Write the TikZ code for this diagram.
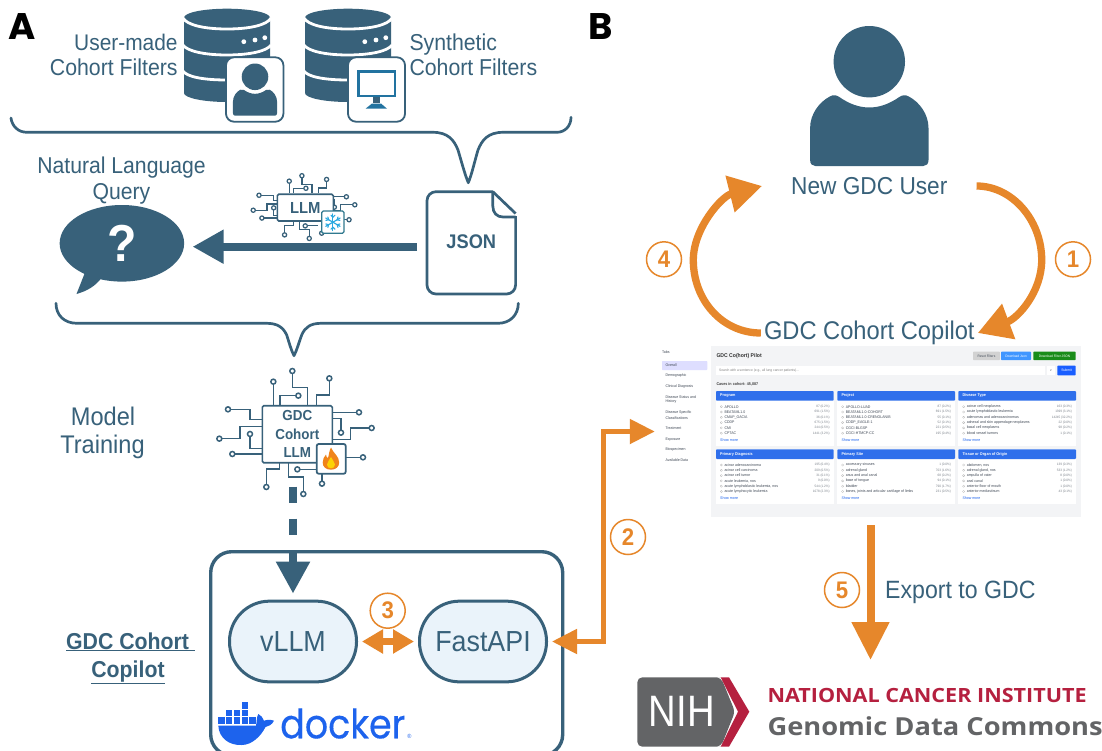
\documentclass[tikz,border=0pt]{standalone}
\usepackage{fontspec}
\setmainfont[FakeStretch=0.925]{Liberation Sans}
\newfontfamily\nihfont[FakeStretch=0.87]{Liberation Sans}
\newfontfamily\heavyfont{Poppins}
\newfontfamily\dockerfont[FakeStretch=0.9,FakeBold=0.35]{Poppins}
\newfontfamily\ncifont[FakeStretch=1.1]{Open Sans}
\usetikzlibrary{arrows.meta,shapes.geometric,calc}
\definecolor{navy}{HTML}{38617A}
\definecolor{orng}{HTML}{E6872B}
\definecolor{pale}{HTML}{EAF3FA}
\definecolor{dkblue}{HTML}{1D63ED}
\definecolor{nihred}{HTML}{B5203F}
\definecolor{nihgray}{HTML}{636466}
\definecolor{cardblue}{HTML}{2F6FEB}
\definecolor{panel}{HTML}{F3F4F6}
\definecolor{dtext}{HTML}{414A57}
\definecolor{monitor}{HTML}{2273A0}
\definecolor{flake}{HTML}{29A9E0}
\newcommand\fs[1]{\fontsize{#1}{#1}\selectfont}
\tikzset{
  x=1pt,y=-1pt,
  lab/.style={text=navy,inner sep=0pt},
  brace/.style={draw=navy,line width=2.7pt,line cap=round,line join=round},
  navyarrow/.style={draw=navy,line width=8pt},
  pill/.style={draw=navy,fill=pale,line width=3pt,rounded corners=40pt,minimum width=127pt,minimum height=80.7pt,inner sep=0pt,text=navy,font=\fs{29}},
  numc/.style={circle,draw=orng,line width=1.5pt,fill=white,minimum size=35pt,inner sep=0pt,text=orng,font=\fs{24}\bfseries},
  chipbox/.style={draw=navy,line width=1.6pt,fill=white,rounded corners=1.5pt,inner sep=0pt,text=navy,align=center},
  dtxt/.style={inner sep=0pt,text=dtext,font=\fs{3.8}},
  wire/.style={draw=navy},
  pinc/.style={draw=navy,fill=white},
}
\newcommand\wire[2]{\draw[wire] #1 -- #2; \filldraw[pinc] #2 ellipse [x radius=\prx, y radius=\pry];}
\newcommand\chipwires{%
  \wire{(220,165)}{(220,95)}
  \wire{(240,165)--(240,137)}{(295,137)}
  \wire{(322,165)--(322,113)--(277,113)}{(277,63)}
  \wire{(350,165)--(350,135)--(388,135)}{(388,85)}
  \wire{(187,208)--(150,208)--(150,178)}{(84,178)}
  \wire{(187,230)--(120,230)--(120,266)}{(58,266)}
  \wire{(187,295)--(150,295)}{(150,252)}
  \wire{(187,312)}{(97,312)}
  \wire{(397,187)}{(477,187)}
  \wire{(397,205)--(423,205)}{(423,248)}
  \wire{(397,268)--(452,268)--(452,234)}{(515,234)}
  \wire{(437,322)}{(489,322)}
  \wire{(238,338)--(238,357)--(199,357)}{(199,411)}
  \wire{(265,338)--(265,381)--(310,381)}{(310,432)}
  \wire{(350,358)}{(292,358)}
  \wire{(366,371)}{(366,401)}
}
\newcommand\personicon{%
  \fill (0,35.7) circle (35.7);
  \fill (-59.2,134) -- (-59.2,102) .. controls (-59.2,88) and (-50,76) .. (-39.5,70.5)
     .. controls (-36,68.5) and (-33,69) .. (-30,71) .. controls (-20,78) and (-10,81.5) .. (0,81.5)
     .. controls (10,81.5) and (20,78) .. (30,71) .. controls (33,69) and (36,68.5) .. (39.5,70.5)
     .. controls (50,76) and (59.2,88) .. (59.2,102) -- (59.2,134) .. controls (59.2,138) and (57,140) .. (54,140)
     -- (-54,140) .. controls (-57,140) and (-59.2,138) .. (-59.2,134) -- cycle;
}
\newcommand\dbicon{%
  \fill[navy] (0,17.7) -- (0,93) .. controls (0,98) and (20,102) .. (43,102) .. controls (66,102) and (86,98) .. (86,93)
    -- (86,17.7) .. controls (86,12.5) and (66,8.7) .. (43,8.7) .. controls (20,8.7) and (0,12.5) .. (0,17.7) -- cycle;
  \draw[white,line width=2.8pt] (-1,18) .. controls (3,25) and (20,29) .. (43,29) .. controls (66,29) and (83,25) .. (87,18);
  \draw[white,line width=2.8pt] (-1,45) .. controls (3,51) and (20,55) .. (43,55) .. controls (66,55) and (83,51) .. (87,45);
  \draw[white,line width=2.8pt] (-1,71) .. controls (3,77) and (20,80) .. (43,80) .. controls (66,80) and (83,77) .. (87,71);
  \fill[white] (59.8,41.7) circle (2.4) (71,40) circle (2.4) (80.8,37.7) circle (2.4);
}
\newcommand\dcard[5]{%
  \fill[white] (#2,#3) rectangle ++(117.7,54.5);
  \fill[cardblue,rounded corners=.8pt] (#2,#3) rectangle ++(117.7,9.7);
  \node[dtxt,text=white,font=\fs{4}\bfseries,anchor=west] (#1h) at ({#2+4},{#3+4.8}) {#4};
  \foreach \lab/\num [count=\k] in {#5} {
    \pgfmathsetmacro\yy{#3+15.7+5.3*(\k-1)}
    \draw[gray!60,line width=.25pt] ({#2+5.3},\yy) circle (1.1);
    \node[dtxt,anchor=west] (#1l\k) at ({#2+8.3},\yy) {\lab};
    \node[dtxt,anchor=east,text=dtext!70,font=\fs{3.3}] (#1n\k) at ({#2+113.8},\yy) {\num};
  }
  \node[dtxt,anchor=west,text=dkblue] (#1m) at ({#2+4},{#3+48.7}) {Show more};
}
\begin{document}
\begin{tikzpicture}
\clip (0,0) rectangle (1102,750);
\fill[white] (0,0) rectangle (1102,750);

% panel letters
\node[inner sep=0pt,anchor=base west,font=\heavyfont\fs{37}\bfseries] (pa) at (8,39.3) {A};
\node[inner sep=0pt,anchor=base west,font=\heavyfont\fs{37}\bfseries] (pb) at (588,39.3) {B};

% databases
\begin{scope}[shift={(184,0)}] \dbicon \end{scope}
\begin{scope}[shift={(305,0)}] \dbicon \end{scope}
\draw[draw=navy,fill=white,line width=1.8pt,rounded corners=8pt] (226,57.3) rectangle (283.4,121.7);
\begin{scope}[shift={(255,63.5)},scale=.372,fill=navy] \personicon \end{scope}
\draw[draw=navy,fill=white,line width=1.8pt,rounded corners=8pt] (348,57.3) rectangle (405,121.7);
\draw[draw=monitor,line width=2.6pt] (358.3,71.3) rectangle (395.1,96);
\fill[navy] (373,97.3) rectangle (380,103);
\fill[monitor] (372,103.5) -- (381,103.5) -- (387,108.7) -- (365.5,108.7) -- cycle;

\node[lab,anchor=base east,font=\fs{22.6}] (lu1) at (177.8,50) {User-made};
\node[lab,anchor=base east,font=\fs{23}] (lu2) at (177.8,75) {Cohort Filters};
\node[lab,anchor=base west,font=\fs{23}] (ls1) at (409.3,50) {Synthetic};
\node[lab,anchor=base west,font=\fs{23}] (ls2) at (409.3,75) {Cohort Filters};

% top brace
\draw[brace] (11,118) .. controls (12,126) and (18,132.3) .. (27,132.3) -- (433,132.3)
  .. controls (448,132.3) and (454,140) .. (458,150) .. controls (461,160) and (465,175) .. (468.3,182.7)
  .. controls (471.6,175) and (475,160) .. (478,150) .. controls (482,140) and (488,132.3) .. (503,132.3)
  -- (556.7,132.3) .. controls (565,132.3) and (571,126) .. (571,117.3);

\node[lab,anchor=base,font=\fs{22.9}] (nl1) at (121.5,173.3) {Natural Language};
\node[lab,anchor=base,font=\fs{22.9}] (nl2) at (121.5,199.5) {Query};

% speech bubble
\fill[navy] (86,270) -- (76.5,294) .. controls (87,291) and (96,286) .. (102,277) -- cycle;
\node[ellipse,fill=navy,minimum width=124.5pt,minimum height=76.6pt,inner sep=0pt,text=white,font=\fs{52}\bfseries] (query) at (121.9,243.3) {?};

% json document
\draw[navy,line width=2.7pt,line join=round,rounded corners=9pt,fill=white] (492.8,191.7) -- (427,191.7) -- (427,294) -- (515.6,294) -- (515.6,216);
\draw[navy,line width=2.7pt,line join=round] (492.8,191.7) -- (515.6,213.5);
\draw[navy,line width=2.7pt,line join=round] (492.8,193) -- (492.8,206) .. controls (492.8,213) and (497,217) .. (503,217) -- (515.6,217);
\node[inner sep=0pt,minimum width=88.6pt,minimum height=102.3pt,text=navy,font=\fs{19.7}\bfseries] (json) at (471.3,242) {JSON};

\draw[navyarrow,-{Triangle[length=31pt,width=32pt]}] ([xshift=-9.6pt,yshift=-4.7pt]json.west) -- ([xshift=8.2pt,yshift=-3.4pt]query.east);

% frozen LLM chip
\begin{scope}[shift={(240.33,165)},xscale=.2223,yscale=.17,line width=1.25pt]
  \def\prx{9.4}\def\pry{12.3}
  \chipwires
\end{scope}
\node[chipbox,minimum width=56pt,minimum height=26.7pt,font=\fs{16}\bfseries] (llm) at (305.3,207.6) {LLM};
\draw[draw=navy!85!cyan,fill=white,line width=1.3pt,rounded corners=1.5pt] (321.7,211) rectangle (344,233.3);
\begin{scope}[shift={(332.9,222.2)},line width=1.15pt,line cap=round]
  \foreach \a in {30,90,...,330} {
    \draw[flake] (0,0) -- (\a:8.3);
    \draw[flake] (\a:5) -- ++(\a+45:2.8);
    \draw[flake] (\a:5) -- ++(\a-45:2.8);
  }
\end{scope}

% bottom brace
\draw[brace] (56,303.3) .. controls (56,315) and (64,323.3) .. (77,323.3) -- (266.7,323.3)
  .. controls (277,323.3) and (283,327) .. (286.7,335) .. controls (289,342) and (291,350) .. (294,355.7)
  .. controls (297,350) and (299,342) .. (301.7,335) .. controls (305,327) and (311,323.3) .. (321,323.3)
  -- (498,323.3) .. controls (510,323.3) and (518.3,315) .. (518.3,303.3);

\node[lab,anchor=base,font=\fs{25.5}] (mt1) at (103,425) {Model};
\node[lab,anchor=base,font=\fs{25.5}] (mt2) at (102.5,453) {Training};

% training chip
\begin{scope}[shift={(200,350)},xscale=.3333,yscale=.3333,line width=1.5pt]
  \def\prx{7.5}\def\pry{7.5}
  \chipwires
\end{scope}
\node[chipbox,minimum width=70pt,minimum height=57pt,font=\fontsize{14.5}{18.3}\selectfont\bfseries] (gdcllm) at (297.3,434.2) {GDC\\Cohort\\LLM};
\draw[draw=navy,fill=white,line width=1.8pt,rounded corners=2pt] (316.7,444) rectangle (345.7,473.7);
\fill[orng!60!orange] (331,447.5) .. controls (333,453) and (339.2,456) .. (339.2,462.5) .. controls (339.2,467) and (335.5,469.7) .. (331,469.7)
  .. controls (326,469.7) and (322.7,467) .. (322.7,462.5) .. controls (322.7,459) and (324,457) .. (326,454.5)
  .. controls (326,456.5) and (327,458) .. (328,458) .. controls (329,455) and (329,451) .. (331,447.5) -- cycle;
\fill[yellow!70!orange] (331,457) .. controls (332,460) and (335,462) .. (335,464.5) .. controls (335,467) and (333,468.3) .. (331,468.3)
  .. controls (328.5,468.3) and (327,467) .. (327,464.5) .. controls (327,461.5) and (330,460) .. (331,457) -- cycle;

% docker box
\draw[navy,line width=3.4pt,rounded corners=21pt] (210.7,551.7) rectangle (562.7,755.5);
\node[pill] (vllm) at (293,641.5) {vLLM};
\node[pill] (fastapi) at (483,641.5) {FastAPI};
\draw[navyarrow,dash pattern=on 16pt off 16pt,-{Triangle[length=32pt,width=32pt]},shorten <=23pt,shorten >=6pt] (vllm.north |- gdcllm.south) -- (vllm.north);
\draw[orng,line width=6.5pt,{Triangle[length=21pt,width=23pt]}-{Triangle[length=21pt,width=23pt]},shorten <=4pt,shorten >=4pt] (vllm.east) -- (fastapi.west);
\node[numc] (n3) at (387.7,610.7) {3};

% docker logo
\foreach \xx/\yy in {241.7/702.3, 226/710, 233.8/710, 241.7/710, 218.3/717.3, 226/717.3, 233.8/717.3, 241.7/717.3, 249.3/717.3}
  \fill[dkblue] (\xx,\yy) rectangle ++(6.2,6.2);
\fill[dkblue] (218.3,725.7) -- (256,725.7) .. controls (257,721) and (256.5,717) .. (258.3,714)
  .. controls (261,715) and (263,718) .. (264,720.7) .. controls (267,719.5) and (271,719.5) .. (274,720.7)
  .. controls (272,724.5) and (269,726.5) .. (265.5,727) .. controls (261,736) and (252,745) .. (241.7,745)
  .. controls (229,745.5) and (219,738) .. (218.3,725.7) -- cycle;
\node[inner sep=0pt,anchor=base west,text=dkblue,font=\dockerfont\fs{40.5}] (dockertxt) at (280,738.3) {docker};
\node[inner sep=0pt,anchor=center,text=dkblue,font=\fs{6}] (dockerreg) at (409.3,736.7) {®};

\node[lab,anchor=base,font=\fs{23}\bfseries] (gcc1) at (130.5,649) {\underline{GDC Cohort\ }};
\node[lab,anchor=base,font=\fs{23}\bfseries] (gcc2) at (128,677) {\underline{Copilot}};

% user
\begin{scope}[shift={(869.3,26)},fill=navy] \personicon \end{scope}
\node[lab,font=\fs{24.5},inner xsep=29pt] (newuser) at (869.3,186) {New GDC User};
\node[lab,font=\fs{25.6},inner xsep=3pt] (copilot) at (869.3,333) {GDC Cohort Copilot};

% dashboard screenshot
\node[inner sep=0pt,minimum width=421pt,minimum height=171pt] (dash) at (870.5,431.5) {};
\fill[panel] (711,346) rectangle (1081,517);
\node[dtxt,anchor=west] (tabs) at (662,352.3) {Tabs};
\fill[blue!13,rounded corners=.6pt] (662,361) rectangle (707.3,370);
\foreach \tx/\ty [count=\k] in {Overall/365.3,Demographic/375.7,Clinical Diagnosis/386.7,Disease Status and/397,History/402,Disease Specific/412.7,Classifications/418,Treatment/428.7,Exposure/439.3,Biospecimen/450,Available Data/460.3}
  \node[dtxt,anchor=west] (side\k) at (665.3,\ty) {\tx};
\node[dtxt,anchor=west,text=black!80,font=\fs{5.5}\bfseries] (dtitle) at (716.3,355.7) {GDC Co(hort) Pilot};
\fill[gray!35,rounded corners=.6pt] (973,351.7) rectangle (1000,360);
\fill[blue!55!cyan!75,rounded corners=.6pt] (1001,351.7) rectangle (1031,360);
\fill[green!50!black!90!white,rounded corners=.6pt] (1033.3,351.7) rectangle (1075.7,360);
\node[dtxt,font=\fs{3.4}] (b1) at (986.5,355.9) {Reset Filters};
\node[dtxt,font=\fs{3.4},text=white] (b2) at (1016,355.9) {Download Json};
\node[dtxt,font=\fs{3.4},text=white] (b3) at (1054.5,355.9) {Download Filter JSON};
\fill[white] (716.3,365.7) rectangle (1045,375.3);
\node[dtxt,anchor=west,text=gray,font=\fs{3.5}] (search) at (719,370.5) {Search with a sentence (e.g., all lung cancer patients)...};
\fill[white] (1046.7,365.7) rectangle (1055,375.3);
\node[dtxt,font=\fs{3.3}] (sel) at (1050.8,370.5) {v};
\fill[blue!70!cyan!90,rounded corners=.6pt] (1057.3,365.7) rectangle (1075.7,375.3);
\node[dtxt,text=white,font=\fs{3.6}] (submit) at (1066.5,370.5) {Submit};
\node[dtxt,anchor=west,text=black!75,font=\fs{4}\bfseries] (ccount) at (716.3,384.3) {Cases in cohort: 45,087};
\dcard{ca}{716}{391}{Program}{APOLLO/87 (0.2\%),BEATAML1.0/691 (1.5\%),CMAP\_GACIA/36 (0.1\%),CDDP/675 (1.5\%),CMI/244 (0.5\%),CPTAC/1441 (3.2\%)}
\dcard{cb}{837.3}{391}{Project}{APOLLO-LUAD/87 (0.2\%),BEATAML1.0-COHORT/691 (1.5\%),BEATAML1.0-CRENOLANIB/55 (0.1\%),CDDP\_EAGLE-1/52 (0.1\%),CGCI-BLGSP/221 (0.5\%),CGCI-HTMCP-CC/195 (0.4\%)}
\dcard{cc}{958.3}{391}{Disease Type}{acinar cell neoplasms/163 (0.3\%),acute lymphoblastic leukemia/1399 (3.1\%),adenomas and adenocarcinomas/14245 (32.2\%),adnexal and skin appendage neoplasms/22 (0.0\%),basal cell neoplasms/98 (0.2\%),blood vessel tumors/1 (0.1\%)}
\dcard{cd}{716}{449.3}{Primary Diagnosis}{acinar adenocarcinoma/195 (0.4\%),acinar cell carcinoma/209 (0.5\%),acinar cell tumor/31 (0.1\%),{acute leukemia, nos}/9 (0.0\%),{acute lymphoblastic leukemia, nos}/544 (1.2\%),acute lymphocytic leukemia/1078 (2.3\%)}
\dcard{ce}{837.3}{449.3}{Primary Site}{accessory sinuses/1 (0.0\%),adrenal gland/703 (1.6\%),anus and anal canal/68 (0.2\%),base of tongue/94 (0.1\%),bladder/790 (1.7\%),{bones, joints and articular cartilage of limbs}/231 (0.5\%)}
\dcard{cf}{958.3}{449.3}{Tissue or Organ of Origin}{{abdomen, nos}/139 (0.3\%),{adrenal gland, nos}/533 (1.2\%),ampulla of vater/8 (0.0\%),anal canal/1 (0.0\%),anterior floor of mouth/1 (0.0\%),anterior mediastinum/43 (0.1\%)}

% cycle arrows
\draw[orng,line width=7.3pt,-{Triangle[length=33pt,width=36pt]}] (newuser.east) .. controls (1012,186) and (1041.7,220) .. (1041.7,260) .. controls (1041.7,292) and (1018,318) .. (copilot.east);
\draw[orng,line width=7.3pt,-{Triangle[length=33pt,width=36pt]}] (copilot.west) .. controls (722,333) and (693.3,300) .. (693.3,260) .. controls (693.3,228) and (722,196) .. (newuser.west);
\node[numc] (n1) at (1073,259.3) {1};
\node[numc] (n4) at (664,259.3) {4};

% fastapi - dashboard
\coordinate (elbow) at (603,500);
\draw[orng,line width=5pt,line join=miter,{Triangle[length=25pt,width=24pt]}-{Triangle[length=25pt,width=24pt]},shorten <=4pt,shorten >=5pt] (fastapi.east) -- (elbow |- fastapi.east) -- (elbow |- dash.west) -- (dash.west);
\node[numc] (n2) at (628,537) {2};

% export
\coordinate (exporttip) at (870.5,660);
\draw[orng,line width=8pt,-{Triangle[length=38pt,width=36pt]},shorten <=8pt] (dash.south) -- (exporttip);
\node[numc] (n5) at (842,590) {5};
\node[lab,anchor=base west,font=\fs{25}] (export) at (885,598) {Export to GDC};

% NIH logo
\fill[nihgray,rounded corners=5pt] (637.3,677.3) -- (716,677.3) -- (721,677.3) -- (735,711.7) -- (721,746.7) -- (716,746.7) -- (637.3,746.7) -- cycle;
\fill[nihred] (720.7,677.3) -- (729,677.3) -- (749.3,711.7) -- (729,746.7) -- (720.7,746.7) -- (738,711.7) -- cycle;
\node[inner sep=0pt,text=white,font=\nihfont\fs{44}] (nih) at (681.7,711.7) {NIH};
\node[inner sep=0pt,anchor=base west,text=nihred,font=\ncifont\fs{19.6}\bfseries] (nci) at (767.3,702.3) {NATIONAL CANCER INSTITUTE};
\node[inner sep=0pt,anchor=base west,text=nihgray,font=\ncifont\fs{24.8}\bfseries] (gdc) at (767.3,735) {Genomic Data Commons};
\end{tikzpicture}
\end{document}
